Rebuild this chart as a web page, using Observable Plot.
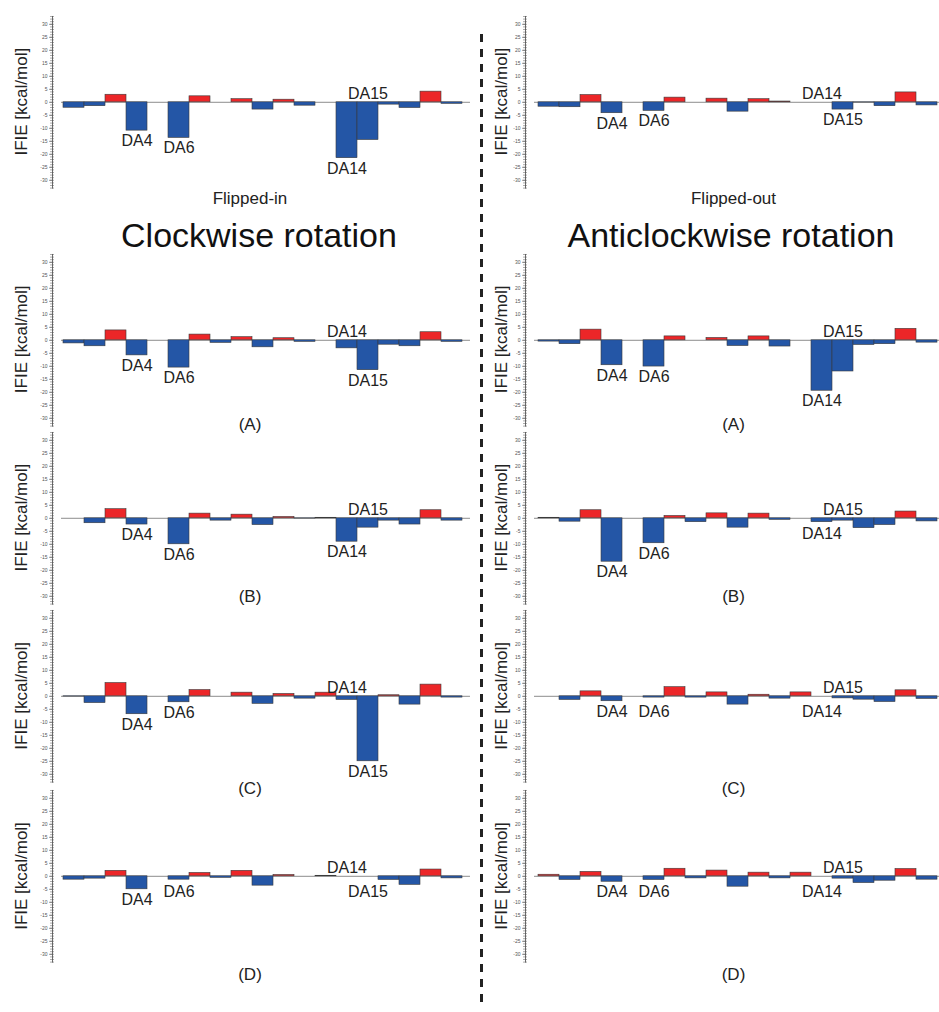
<!DOCTYPE html>
<html>
<head>
<meta charset="utf-8">
<script src="https://cdn.jsdelivr.net/npm/d3@7"></script>
<script src="https://cdn.jsdelivr.net/npm/@observablehq/plot@0.6"></script>
<style>
  html, body { margin: 0; padding: 0; background: #fff; }
  #root { position: relative; width: 939px; height: 1012px; overflow: hidden; background: #fff;
          font-family: "Liberation Sans", Arial, Helvetica, sans-serif; }
  .panel { position: absolute; }
  #overlay { position: absolute; left: 0; top: 0; pointer-events: none; }
</style>
</head>
<body>
<div id="root"></div>
<script>
// ---------------- data ----------------
const residues = [1,2,3,4,5,6,7,8,9,10,11,12,13,14,15,16,17,18,19];
const yTicks = [-30,-25,-20,-15,-10,-5,0,5,10,15,20,25,30];
const minorTicks = d3.range(-33, 34, 1);
const labelNames = ["DA4", "DA6", "DA14", "DA15"];
const labelResidues = [4, 6, 14, 15];

const cwFlippedIn   = [-2.1,-1.5,2.9,-10.9,0,-13.7,2.3,0,1.2,-2.8,1.0,-1.3,0,-21.5,-14.5,-0.9,-2.2,4.1,-0.6];
const acwFlippedOut = [-1.7,-1.9,2.8,-4.2,0,-3.3,1.8,0,1.4,-3.6,1.2,0.3,0,0,-2.8,-0.1,-1.5,3.8,-1.2];
const cwA  = [-1.2,-2.3,3.8,-5.8,0,-10.5,2.2,-1.0,1.2,-2.7,0.8,-0.6,0,-3.1,-11.5,-1.7,-2.3,3.1,-0.6];
const acwA = [-0.5,-1.5,4.1,-9.6,0,-10.1,1.5,0,0.9,-2.2,1.5,-2.4,0,-19.4,-12.0,-1.8,-1.5,4.4,-0.9];
const cwB  = [0,-1.9,3.5,-2.4,0,-10.0,1.8,-0.9,1.4,-2.6,0.5,-0.1,0.2,-9.0,-3.6,-0.9,-2.4,3.1,-0.9];
const acwB = [0.2,-1.3,3.1,-16.7,0,-9.6,0.9,-1.5,1.9,-3.6,1.8,-0.6,0,-1.5,-0.9,-3.8,-2.6,2.6,-1.2];
const cwC  = [-0.1,-2.6,5.1,-6.9,0,-2.3,2.4,0,1.4,-2.9,0.9,-0.9,1.4,-1.4,-25.0,0.4,-3.2,4.5,-0.5];
const acwC = [0,-1.4,1.9,-1.9,0,-0.5,3.5,-0.5,1.5,-3.2,0.6,-0.9,1.5,0,-0.8,-1.3,-2.2,2.3,-1.0];
const cwD  = [-1.3,-0.9,2.1,-5.0,0,-1.3,1.3,-0.6,2.1,-3.6,0.5,0,0.2,0,0,-1.4,-3.3,2.6,-0.8];
const acwD = [0.6,-1.4,1.7,-2.1,0,-1.4,2.9,-0.8,2.2,-4.0,1.4,-0.8,1.4,0,-0.9,-2.6,-1.7,2.8,-1.3];

// label side for DA4, DA6, DA14, DA15
const cwFlippedInSides   = ["below","below","below","above"];
const acwFlippedOutSides = ["below","below","above","below"];
const cwASides  = ["below","below","above","below"];
const acwASides = ["below","below","below","above"];
const cwBSides  = ["below","below","below","above"];
const acwBSides = ["below","below","below","above"];
const cwCSides  = ["below","below","above","below"];
const acwCSides = ["below","below","below","above"];
const cwDSides  = ["below","below","above","below"];
const acwDSides = ["below","below","below","above"];

const columnTitles = ["Clockwise rotation", "Anticlockwise rotation"];
const rowCaptions = [["Flipped-in", "Flipped-out"], ["(A)","(A)"], ["(B)","(B)"], ["(C)","(C)"], ["(D)","(D)"]];
const yLabel = "IFIE [kcal/mol]";

// ---------------- layout ----------------
const FONT = "Liberation Sans, Arial, Helvetica, sans-serif";
const BLUE = "#2456a6", RED = "#ec2628";
const rowZero = [101.7, 339.3, 517.7, 695.8, 876];
const captionBaseline = [203.5, 430.3, 602, 793.7, 980.3];
const PX_PER_UNIT = 2.6, MT = 10, MB = 10;
const H = MT + MB + 66 * PX_PER_UNIT;

const panels = [
  [cwFlippedIn, cwFlippedInSides, acwFlippedOut, acwFlippedOutSides],
  [cwA, cwASides, acwA, acwASides],
  [cwB, cwBSides, acwB, acwBSides],
  [cwC, cwCSides, acwC, acwCSides],
  [cwD, cwDSides, acwD, acwDSides]
];

const colCfg = [
  {left: 0, width: 473, ml: 52, mr: 3, xr: [61, 464], ylabX: 27, capX: 250, titleX: 259},
  {left: 470, width: 469, ml: 55, mr: 0, xr: [65.7, 468.5], ylabX: 507, capX: 733.5, titleX: 731}
];

function makePanel(values, sides, cfg) {
  const data = residues.map((r, i) => ({i: r, v: values[i]})).filter(d => d.v !== 0);
  const labels = labelNames.map((n, k) => ({name: n, i: labelResidues[k], v: values[labelResidues[k] - 1], side: sides[k]}));
  return Plot.plot({
    width: cfg.width, height: H,
    marginLeft: cfg.ml, marginRight: cfg.mr, marginTop: MT, marginBottom: MB,
    x: {type: "band", domain: residues, range: cfg.xr, padding: 0, axis: null},
    y: {domain: [-33, 33], axis: null},
    style: {background: "transparent", overflow: "visible", fontFamily: FONT},
    marks: [
      Plot.ruleY([0], {stroke: "#8c8c8c", strokeWidth: 1, insetLeft: 9}),
      Plot.barY(data, {x: "i", y: "v", fill: d => d.v > 0 ? RED : BLUE, stroke: "#3a3a3a", strokeWidth: 0.6}),
      Plot.frame({anchor: "left", stroke: "#444", strokeWidth: 0.8}),
      Plot.axisY(minorTicks, {tickSize: 4, dx: 2, fill: null, label: null, stroke: "#555", strokeWidth: 0.5}),
      Plot.axisY(yTicks, {tickSize: 3, tickPadding: 2, fontSize: 5, label: null, tickFormat: d => String(d),
                          fill: "#555", stroke: "#555", strokeWidth: 0.6}),
      Plot.text(labels.filter(d => d.side === "below"), {x: "i", y: d => Math.min(d.v, -2), text: "name",
                lineAnchor: "top", dy: 4, fontSize: 16, fill: "#222", fontFamily: FONT}),
      Plot.text(labels.filter(d => d.side === "above"), {x: "i", y: () => 0, text: "name",
                lineAnchor: "bottom", dy: -3, fontSize: 16, fill: "#222", fontFamily: FONT})
    ]
  });
}

const root = document.getElementById("root");
panels.forEach((row, r) => {
  [0, 1].forEach(c => {
    const cfg = colCfg[c];
    const svg = makePanel(row[c * 2], row[c * 2 + 1], cfg);
    const div = document.createElement("div");
    div.className = "panel";
    div.style.left = cfg.left + "px";
    div.style.top = (rowZero[r] - MT - 33 * PX_PER_UNIT) + "px";
    div.appendChild(svg);
    root.appendChild(div);
  });
});

// overlay: divider, titles, captions, y labels
const ov = d3.select(root).append("svg").attr("id", "overlay")
  .attr("width", 939).attr("height", 1012).style("font-family", FONT);

ov.append("line").attr("x1", 481.5).attr("x2", 481.5).attr("y1", 34).attr("y2", 1008)
  .attr("stroke", "#222").attr("stroke-width", 3).attr("stroke-dasharray", "8,7");

columnTitles.forEach((t, c) => {
  ov.append("text").attr("x", colCfg[c].titleX).attr("y", 247).attr("text-anchor", "middle")
    .attr("font-size", 34).attr("fill", "#111").text(t);
});

rowCaptions.forEach((pair, r) => {
  pair.forEach((t, c) => {
    ov.append("text").attr("x", colCfg[c].capX).attr("y", captionBaseline[r]).attr("text-anchor", "middle")
      .attr("font-size", 17).attr("fill", "#222").text(t);
    const lx = colCfg[c].ylabX, ly = rowZero[r];
    ov.append("text").attr("transform", `translate(${lx},${ly}) rotate(-90)`).attr("text-anchor", "middle")
      .attr("font-size", 17).attr("fill", "#222").text(yLabel);
  });
});
</script>
</body>
</html>
